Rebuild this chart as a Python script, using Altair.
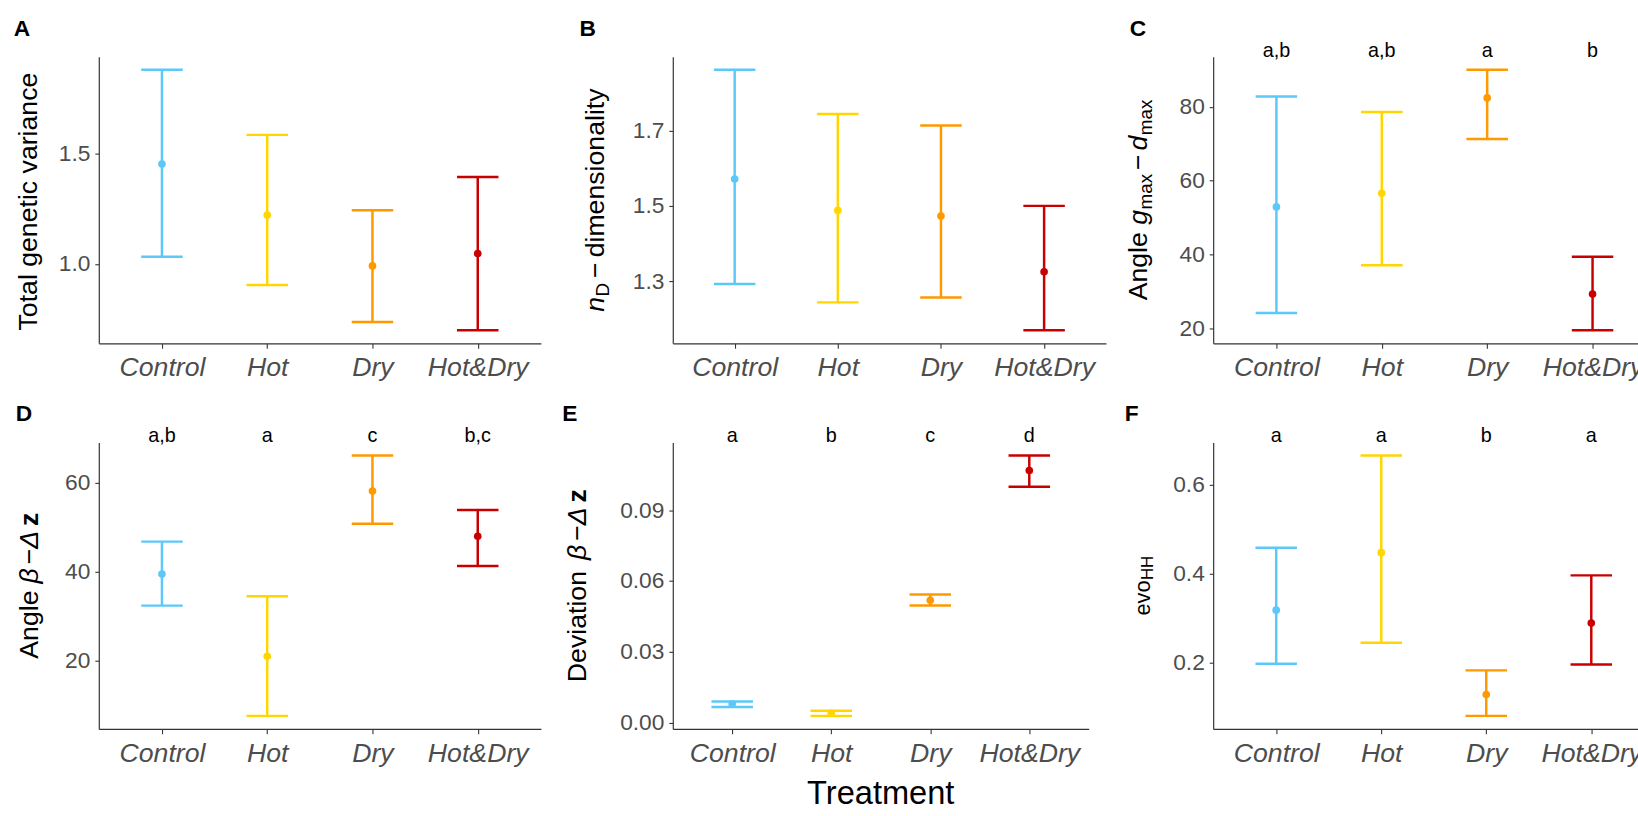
import altair as alt
import pandas as pd

# ---------------- data ----------------
TREATMENTS = ["Control", "Hot", "Dry", "Hot&Dry"]
COLORS = ["#5CC8FA", "#FFD600", "#FF9900", "#C80000"]

A_MEAN = [1.451, 1.221, 0.991, 1.047]
A_LO = [1.032, 0.905, 0.737, 0.700]
A_HI = [1.877, 1.583, 1.242, 1.393]
A_TICKS = [1.0, 1.5]

B_MEAN = [1.571, 1.488, 1.473, 1.325]
B_LO = [1.293, 1.244, 1.257, 1.170]
B_HI = [1.861, 1.744, 1.713, 1.500]
B_TICKS = [1.3, 1.5, 1.7]

C_MEAN = [52.9, 56.6, 82.4, 29.3]
C_LO = [24.2, 37.1, 71.3, 19.5]
C_HI = [82.8, 78.6, 90.0, 39.4]
C_LETTERS = ["a,b", "a,b", "a", "b"]
C_TICKS = [20, 40, 60, 80]

D_MEAN = [39.5, 21.0, 58.2, 48.0]
D_LO = [32.4, 7.6, 50.8, 41.3]
D_HI = [46.8, 34.5, 66.2, 53.9]
D_LETTERS = ["a,b", "a", "c", "b,c"]
D_TICKS = [20, 40, 60]

E_MEAN = [0.0078, 0.0039, 0.0518, 0.1068]
E_LO = [0.0066, 0.0028, 0.0496, 0.0999]
E_HI = [0.0089, 0.0050, 0.0542, 0.1132]
E_LETTERS = ["a", "b", "c", "d"]
E_TICKS = [0.0, 0.03, 0.06, 0.09]

F_MEAN = [0.318, 0.447, 0.129, 0.289]
F_LO = [0.198, 0.245, 0.081, 0.196]
F_HI = [0.458, 0.665, 0.183, 0.396]
F_LETTERS = ["a", "a", "b", "a"]
F_TICKS = [0.2, 0.4, 0.6]

X_TITLE = "Treatment"

# ---------------- style ----------------
FONT = "Liberation Sans"
GRAY = "#4D4D4D"
AXC = "#333333"
H = 290

# Arial / Liberation Sans advance widths (em)
CW = {' ': 0.278, 'A': 0.667, 'D': 0.722, 'H': 0.722, 'T': 0.611, 'a': 0.556,
      'c': 0.5, 'd': 0.556, 'e': 0.556, 'g': 0.556, 'i': 0.222, 'l': 0.222,
      'm': 0.833, 'n': 0.556, 'o': 0.556, 'r': 0.333, 's': 0.5, 't': 0.278,
      'v': 0.5, 'x': 0.5, 'y': 0.5, 'z': 0.5, '\u2212': 0.584, '\u03b2': 0.575,
      '\u0394': 0.668}


def tw(text, size):
    return sum(CW.get(ch, 0.556) for ch in text) * size


def title_layers(segs, bx):
    # segs: (text, size, style, weight, baseline shift, gap before)
    total = sum(tw(s[0], s[1]) + s[5] for s in segs)
    y0 = H / 2 + total / 2
    cum = 0
    out = []
    for text, size, style, weight, shift, gap in segs:
        cum += gap
        out.append(
            alt.Chart(pd.DataFrame({"t": [text]}))
            .mark_text(angle=270, align="left", baseline="alphabetic", fontSize=size,
                       fontStyle=style, fontWeight=weight, color="black", font=FONT)
            .encode(x=alt.value(bx + shift), y=alt.value(y0 - cum), text="t:N")
        )
        cum += tw(text, size)
    return out


def panel(mean, lo, hi, letters, ticks, fmt, width, plabel, pdx, segs, tbx, extra=None):
    df = pd.DataFrame({"treatment": TREATMENTS, "mean": mean, "lo": lo, "hi": hi})
    if letters:
        df["sig"] = letters
    span = max(hi) - min(lo)
    yscale = alt.Scale(domain=[min(lo) - 0.05 * span, max(hi) + 0.05 * span], nice=False, zero=False)
    yaxis = alt.Axis(values=ticks, format=fmt, title=None, grid=False, labelFontSize=23,
                     labelColor=GRAY, labelFont=FONT, tickSize=4, labelPadding=5,
                     tickColor=AXC, tickWidth=1.1, domainColor=AXC, domainWidth=1.2)
    xaxis = alt.Axis(title=None, labelAngle=0, labelFontStyle="italic", labelFontSize=27,
                     labelColor=GRAY, labelFont=FONT, tickSize=5, labelPadding=7,
                     tickColor=AXC, tickWidth=1.1, domainColor=AXC, domainWidth=1.2)
    xenc = alt.X("treatment:N", sort=TREATMENTS, scale=alt.Scale(type="point", padding=0.6), axis=xaxis)
    color = alt.Color("treatment:N", scale=alt.Scale(domain=TREATMENTS, range=COLORS), legend=None)
    base = alt.Chart(df).encode(x=xenc, color=color)
    layers = [
        base.mark_rule(strokeWidth=2.5).encode(y=alt.Y("lo:Q", scale=yscale, axis=yaxis), y2="hi:Q"),
        base.mark_tick(size=42, thickness=2.5, orient="horizontal", opacity=1).encode(
            y=alt.Y("hi:Q", scale=yscale, axis=yaxis)),
        base.mark_tick(size=42, thickness=2.5, orient="horizontal", opacity=1).encode(
            y=alt.Y("lo:Q", scale=yscale, axis=yaxis)),
        base.mark_circle(size=60, opacity=1).encode(y=alt.Y("mean:Q", scale=yscale, axis=yaxis)),
    ]
    if letters:
        layers.append(
            alt.Chart(df).mark_text(fontSize=20, baseline="alphabetic", color="black", font=FONT)
            .encode(x=xenc, y=alt.value(0), text="sig:N"))
    layers.append(
        alt.Chart(pd.DataFrame({"t": [plabel]}))
        .mark_text(fontSize=23, fontWeight="bold", align="left", baseline="alphabetic",
                   color="black", font=FONT)
        .encode(x=alt.value(pdx), y=alt.value(-21.5), text="t:N"))
    layers += title_layers(segs, tbx)
    if extra is not None:
        layers.append(extra(width))
    return alt.layer(*layers).properties(width=width, height=H)


def spacer(w):
    return (alt.Chart(pd.DataFrame({"v": [0]})).mark_point(opacity=0)
            .encode(x=alt.value(0), y=alt.value(0)).properties(width=w, height=H))


def treatment_label(width):
    return (alt.Chart(pd.DataFrame({"t": [X_TITLE]}))
            .mark_text(fontSize=33, align="center", baseline="alphabetic", color="black", font=FONT)
            .encode(x=alt.value(width / 2), y=alt.value(366.5), text="t:N"))


N, I, B = "normal", "italic", "bold"
MINUS = "\u2212"
BETA = "\u03b2"
DELTA = "\u0394"

pA = panel(A_MEAN, A_LO, A_HI, None, A_TICKS, ".1f", 447.5, "A", -86,
           [("Total genetic variance", 27, N, N, 0, 0)], -63)
pB = panel(B_MEAN, B_LO, B_HI, None, B_TICKS, ".1f", 438.5, "B", -94.5,
           [("n", 27, I, N, 0, 0), ("D", 19, N, N, 5, 0.5), (MINUS, 27, N, N, 0, 5),
            ("dimensionality", 27, N, N, 0, 5)], -69.5)
pC = panel(C_MEAN, C_LO, C_HI, C_LETTERS, C_TICKS, "d", 448, "C", -84.5,
           [("Angle", 27, N, N, 0, 0), ("g", 27, I, N, 0, 7.5), ("max", 19, N, N, 5, 0.5),
            (MINUS, 27, N, N, 0, 4), ("d", 27, I, N, 0, 4), ("max", 19, N, N, 5, 0.5)], -67)
pD = panel(D_MEAN, D_LO, D_HI, D_LETTERS, D_TICKS, "d", 447.5, "D", -84,
           [("Angle", 27, N, N, 0, 0), (BETA, 27, I, N, 0, 7), (MINUS, 27, N, N, 0, 4),
            (DELTA, 27, I, N, 0, 0), ("z", 27, N, B, 0, 5)], -62)
pE = panel(E_MEAN, E_LO, E_HI, E_LETTERS, E_TICKS, ".2f", 421, "E", -112,
           [("Deviation", 27, N, N, 0, 0), (BETA, 27, I, N, 0, 11), (MINUS, 27, N, N, 0, 4),
            (DELTA, 27, I, N, 0, 0), ("z", 27, N, B, 0, 5)], -88,
           extra=treatment_label)
pF = panel(F_MEAN, F_LO, F_HI, F_LETTERS, F_TICKS, ".1f", 446.5, "F", -89.5,
           [("evo", 22, N, N, 0, 0), ("HH", 17, N, N, 3, 0.5)], -64)

chart = (
    alt.concat(pA, spacer(115), pB, spacer(106), pC,
               pD, spacer(132.5), pE, spacer(107.5), pF,
               columns=5, align="none", bounds="flush",
               spacing={"row": 100.3, "column": 0})
    .properties(padding={"left": 14, "top": 12.5, "right": -18, "bottom": 0}, background="white")
    .configure(font=FONT)
    .configure_view(stroke=None)
)

chart.save("out.html", embed_options={"renderer": "svg", "actions": False})
